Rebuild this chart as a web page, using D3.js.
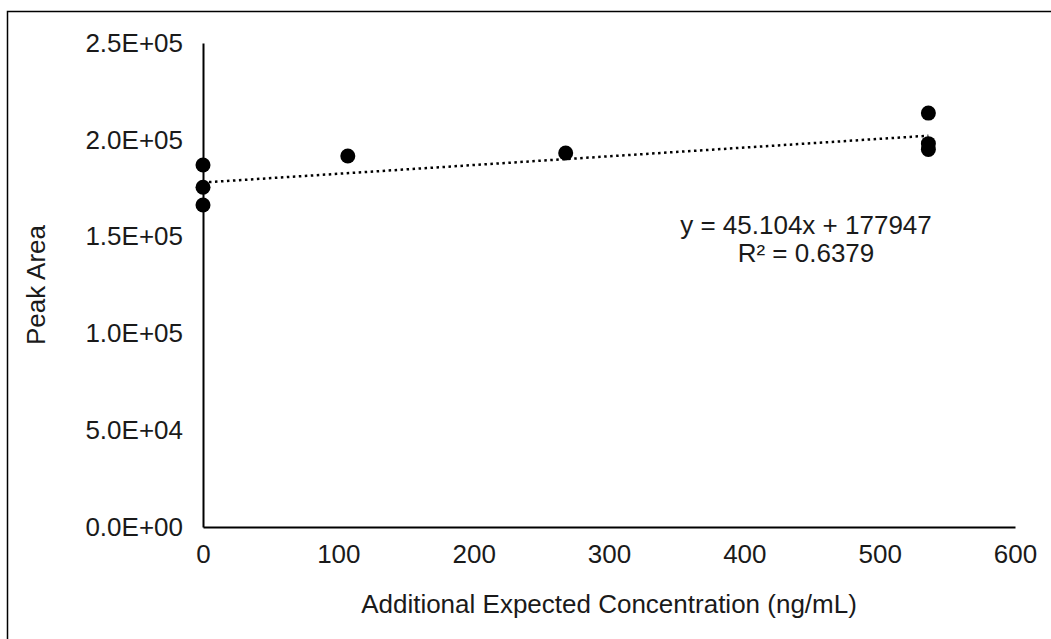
<!DOCTYPE html>
<html>
<head>
<meta charset="utf-8">
<script src="https://cdn.jsdelivr.net/npm/d3@7"></script>
<style>
  body { margin: 0; background: #fff; }
  svg text { font-family: "Liberation Sans", Arial, sans-serif; fill: #1a1a1a; }
</style>
</head>
<body>
<svg id="chart" width="1051" height="639"></svg>
<script>
const width = 1051;
const height = 639;
const margin = { top: 43, right: 36, bottom: 112, left: 203 };
const svg = d3.select("#chart");
const chartWidth = width - margin.left - margin.right;
const chartHeight = height - margin.top - margin.bottom;

// data
const concentrations = [0, 0, 0, 107, 268, 536, 536, 536];
const peakAreas = [187000, 175500, 166300, 191600, 193200, 213800, 198000, 195000];
const slope = 45.104;
const intercept = 177947;
const xTicks = [0, 100, 200, 300, 400, 500, 600];
const yTicks = [0, 50000, 100000, 150000, 200000, 250000];
const yTickLabels = ["0.0E+00", "5.0E+04", "1.0E+05", "1.5E+05", "2.0E+05", "2.5E+05"];
const equationLines = ["y = 45.104x + 177947", "R² = 0.6379"];

const points = concentrations.map((c, i) => ({ x: c, y: peakAreas[i] }));

const fontSize = "26px";

// outer frame (bottom/right run off the picture)
svg.append("rect")
  .attr("x", 7.5).attr("y", 11.5)
  .attr("width", 1100).attr("height", 700)
  .attr("fill", "none").attr("stroke", "#000").attr("stroke-width", 1.5);

const g = svg.append("g").attr("transform", `translate(${margin.left},${margin.top})`);

const x = d3.scaleLinear().domain([0, 600]).range([0, chartWidth]);
const y = d3.scaleLinear().domain([0, 250000]).range([chartHeight, 0]);

// axes, no tick marks
const yAxis = g.append("g")
  .call(d3.axisLeft(y).tickValues(yTicks).tickSize(0).tickPadding(20)
    .tickFormat((d, i) => yTickLabels[i]));
yAxis.select(".domain").attr("stroke", "#000").attr("stroke-width", 2);
yAxis.selectAll("text").style("font-size", fontSize);

const xAxis = g.append("g")
  .attr("transform", `translate(0,${chartHeight})`)
  .call(d3.axisBottom(x).tickValues(xTicks).tickSize(0).tickPadding(18));
xAxis.select(".domain").attr("stroke", "#000").attr("stroke-width", 2);
xAxis.selectAll("text").style("font-size", fontSize);

// trendline
g.append("line")
  .attr("x1", x(0)).attr("y1", y(intercept))
  .attr("x2", x(536)).attr("y2", y(intercept + slope * 536))
  .attr("stroke", "#000")
  .attr("stroke-width", 2.5)
  .attr("stroke-dasharray", "2.5,3.5");

// points
g.selectAll("circle.pt")
  .data(points)
  .enter()
  .append("circle")
  .attr("class", "pt")
  .attr("cx", d => x(d.x))
  .attr("cy", d => y(d.y))
  .attr("r", 7.5)
  .attr("fill", "#000");

// equation
const eq = svg.append("text")
  .attr("text-anchor", "middle")
  .style("font-size", fontSize);
eq.selectAll("tspan")
  .data(equationLines)
  .enter()
  .append("tspan")
  .attr("x", 806)
  .attr("y", (d, i) => 234 + i * 28)
  .text(d => d);

// axis titles
svg.append("text")
  .attr("x", margin.left + chartWidth / 2)
  .attr("y", 613)
  .attr("text-anchor", "middle")
  .style("font-size", fontSize)
  .text("Additional Expected Concentration (ng/mL)");

svg.append("text")
  .attr("transform", `translate(45,${margin.top + chartHeight / 2}) rotate(-90)`)
  .attr("text-anchor", "middle")
  .style("font-size", fontSize)
  .text("Peak Area");
</script>
</body>
</html>
